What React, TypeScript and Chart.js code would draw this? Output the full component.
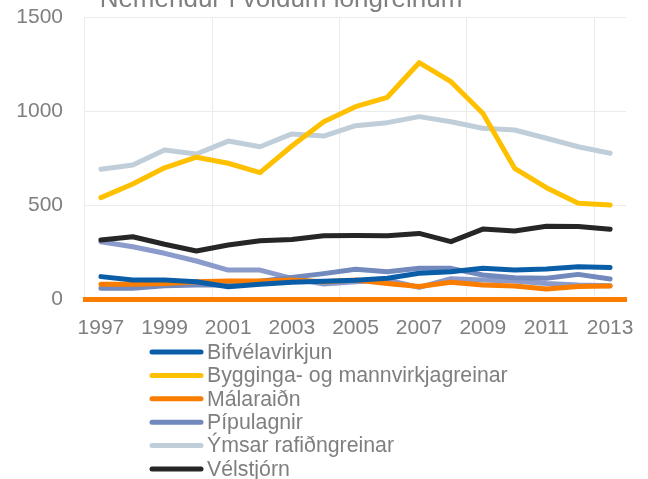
import React, { useEffect, useRef } from "react";
import { Chart, registerables } from "chart.js";

Chart.register(...registerables);

const years = ["1997","1998","1999","2000","2001","2002","2003","2004","2005","2006","2007","2008","2009","2010","2011","2012","2013"];

const bifvelavirkjun = [119, 101, 101, 92, 65, 78, 89, 95, 100, 110, 137, 145, 163, 154, 160, 172, 167];
const bygginga = [539, 612, 698, 754, 722, 672, 814, 943, 1023, 1073, 1257, 1156, 988, 695, 592, 509, 500];
const malaraidn = [78, 78, 83, 92, 96, 96, 101, 92, 101, 83, 66, 89, 75, 69, 53, 66, 69];
const pipulagnir = [57, 57, 71, 75, 75, 95, 115, 135, 158, 145, 163, 163, 128, 113, 110, 131, 106];
const ymsar = [690, 713, 793, 771, 840, 810, 878, 867, 922, 938, 970, 943, 908, 899, 855, 810, 775];
const velstjorn = [314, 331, 291, 255, 287, 310, 317, 337, 338, 337, 349, 305, 372, 362, 387, 386, 371];
const rafvirkjun = [305, 278, 243, 202, 154, 154, 110, 80, 92, 101, 62, 108, 101, 96, 83, 75, 71];

const seriesNames = ["Bifvélavirkjun", "Bygginga- og mannvirkjagreinar", "Málaraiðn", "Pípulagnir", "Ýmsar rafiðngreinar", "Vélstjórn", "Rafvirkjun"];
const seriesColors = ["#0a5ea8", "#ffc000", "#fa7d00", "#7289bd", "#c0ceda", "#262626", "#8b9bcb"];
const seriesValues = [bifvelavirkjun, bygginga, malaraidn, pipulagnir, ymsar, velstjorn, rafvirkjun];

const yTicks = [0, 500, 1000, 1500];
const titleText = "Nemendur í völdum iðngreinum";

const FONT = "'Liberation Sans', Arial, sans-serif";
const GRAY = "#7f7f7f";

const overlayPlugin = {
  id: "overlay",
  afterDraw(chart: any) {
    const ctx = chart.ctx;
    ctx.save();
    ctx.fillStyle = GRAY;
    ctx.font = `26px ${FONT}`;
    ctx.textAlign = "center";
    ctx.textBaseline = "alphabetic";
    ctx.fillText(titleText, 281, 7);
    ctx.font = `21.3px ${FONT}`;
    ctx.textAlign = "left";
    ctx.textBaseline = "middle";
    chart.data.datasets.forEach((ds: any, i: number) => {
      const y = 352 + i * 23.4;
      ctx.strokeStyle = ds.borderColor;
      ctx.lineWidth = 5;
      ctx.lineCap = "round";
      ctx.beginPath();
      ctx.moveTo(152, y);
      ctx.lineTo(201, y);
      ctx.stroke();
      ctx.fillStyle = GRAY;
      ctx.fillText(ds.label, 207, y + 1);
    });
    ctx.restore();
  },
};

export default function App() {
  const ref = useRef<HTMLCanvasElement | null>(null);

  useEffect(() => {
    if (!ref.current) return;
    const chart = new Chart(ref.current, {
      type: "line",
      data: {
        labels: years,
        datasets: seriesNames.map((name, i) => ({
          label: name,
          data: seriesValues[i],
          borderColor: seriesColors[i],
          backgroundColor: seriesColors[i],
          borderWidth: 5,
          pointRadius: 0,
          tension: 0,
          borderJoinStyle: "round" as const,
          borderCapStyle: "round" as const,
          fill: false,
        })),
      },
      options: {
        responsive: false,
        animation: false,
        devicePixelRatio: 1,
        layout: { padding: { top: 17, right: 22, left: 0, bottom: 0 } },
        plugins: {
          legend: { display: false },
          title: { display: false },
          tooltip: { enabled: false },
        },
        scales: {
          x: {
            type: "category",
            offset: true,
            grid: {
              offset: true,
              drawTicks: false,
              lineWidth: 1,
              color: (c: any) => (typeof c.index === "number" && c.index % 4 === 0 ? "#ebebeb" : "rgba(0,0,0,0)"),
            },
            border: { display: true, color: "#fa7d00", width: 5 },
            ticks: {
              autoSkip: false,
              maxRotation: 0,
              minRotation: 0,
              padding: 17,
              color: GRAY,
              font: { family: FONT, size: 21 },
              callback: (_v: any, i: number) => (i % 2 === 0 ? years[i] : ""),
            },
            afterFit: (s: any) => {
              s.height = 180;
              s.paddingLeft = 0;
              s.paddingRight = 0;
            },
          },
          y: {
            min: yTicks[0],
            max: yTicks[yTicks.length - 1],
            afterBuildTicks: (s: any) => {
              s.ticks = yTicks.map((v) => ({ value: v }));
            },
            grid: { drawTicks: false, color: "#ebebeb", lineWidth: 1 },
            border: { display: false },
            ticks: {
              padding: 22,
              color: GRAY,
              font: { family: FONT, size: 21 },
              callback: (v: any) => String(v),
            },
            afterFit: (s: any) => {
              s.width = 85;
              s.paddingTop = 0;
              s.paddingBottom = 0;
            },
          },
        },
      },
      plugins: [overlayPlugin],
    });
    return () => chart.destroy();
  }, []);

  return (
    <div style={{ position: "fixed", left: 0, top: 0, width: 648, height: 479, background: "#fff" }}>
      <canvas ref={ref} width={648} height={479} style={{ width: 648, height: 479, display: "block" }} />
    </div>
  );
}
